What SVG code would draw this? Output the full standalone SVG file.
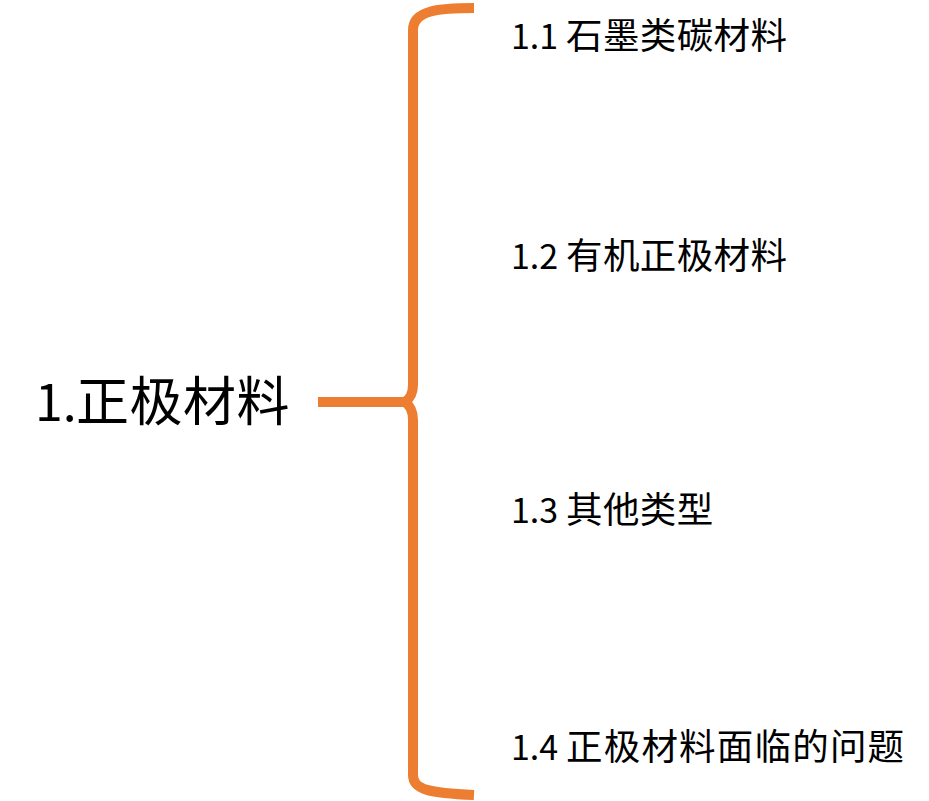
<svg xmlns="http://www.w3.org/2000/svg" width="929" height="801" viewBox="0 0 929 801">
<style>
.t{font-family:"Noto Sans CJK SC","Microsoft YaHei",sans-serif;fill:#000}
.num{font-size:34px}
.cjk{font-size:36.5px}
.mnum{font-size:50px}
.mcjk{font-size:53px}
.br{fill:none;stroke:#ED7D31;stroke-width:10;stroke-linecap:butt;stroke-linejoin:round}
</style>
<rect width="929" height="801" fill="#fff"/>
<g id="connectors">
<path class="br" d="M318,402 L405,402"/>
<path class="br" d="M474,8 C440,8 413,10 413,30 L413,385 C413,395 409,399 405,402 C409,405 413,409 413,420 L413,775 C413,790 430,793 474,795"/>
</g>
<g id="root"><text class="t" x="35" y="421"><tspan class="mnum">1.</tspan><tspan class="mcjk" x="76" letter-spacing="0.5">正极材料</tspan></text></g>
<g id="n1"><text class="t" x="511" y="49"><tspan class="num">1.1</tspan><tspan class="cjk" x="566" letter-spacing="0.4">石墨类碳材料</tspan></text></g>
<g id="n2"><text class="t" x="511" y="269"><tspan class="num">1.2</tspan><tspan class="cjk" x="566" letter-spacing="0.4">有机正极材料</tspan></text></g>
<g id="n3"><text class="t" x="511" y="523"><tspan class="num">1.3</tspan><tspan class="cjk" x="566" letter-spacing="0.4">其他类型</tspan></text></g>
<g id="n4"><text class="t" x="511" y="760"><tspan class="num">1.4</tspan><tspan class="cjk" x="566" letter-spacing="1.2">正极材料面临的问题</tspan></text></g>
</svg>
